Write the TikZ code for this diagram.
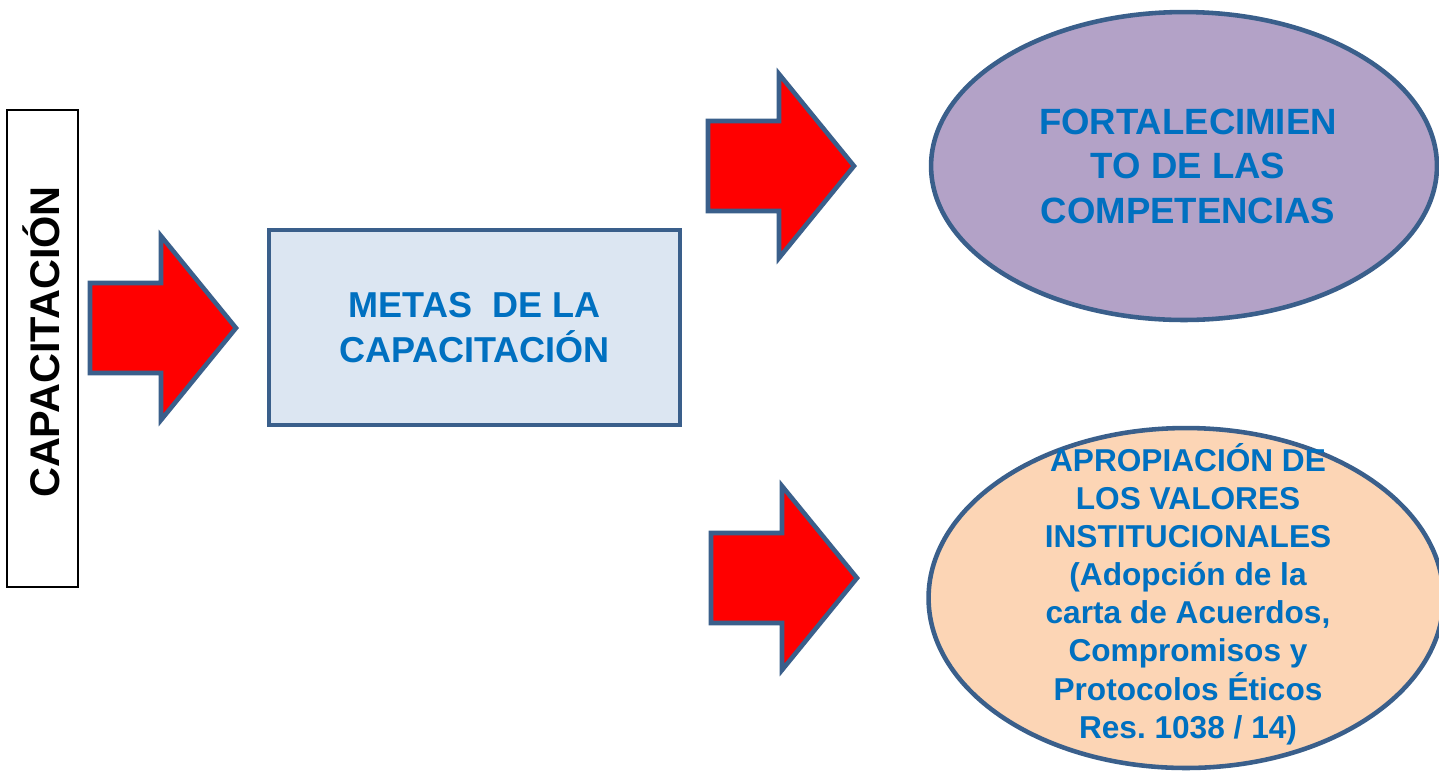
\documentclass[tikz,border=0pt]{standalone}
\usepackage{fontspec}
\setmainfont{Liberation Sans}
\usetikzlibrary{shapes.geometric}
\definecolor{edgeblue}{HTML}{3A5F8B}
\definecolor{txtblue}{HTML}{0070C0}
\definecolor{boxfill}{HTML}{DCE6F2}
\definecolor{lilac}{HTML}{B3A2C7}
\definecolor{peach}{HTML}{FCD5B5}
\frenchspacing
\tikzset{
  blockarrow/.pic={
    \draw[fill=red,draw=edgeblue,line width=2.6pt,line join=miter]
      (0,-45) -- (71,-45) -- (71,-92) -- (146,0) -- (71,92) -- (71,45) -- (0,45) -- cycle;
  },
  bluetext/.style={text=txtblue,font=\bfseries,align=center,inner sep=0pt},
  oval/.style={ellipse,draw=edgeblue,line width=2.6pt,inner sep=0pt},
}
\begin{document}
\begin{tikzpicture}[x=0.02cm,y=-0.02cm]
\useasboundingbox (0,0) rectangle (1439,772);
% left label box
\node[draw=black,line width=0.9pt,fill=white,minimum width=1.42cm,minimum height=9.54cm,inner sep=0pt] (lab) at (42.5,348.5) {};
\node[rotate=90,inner sep=0pt,font=\bfseries\fontsize{23.6}{28}\selectfont] (labtxt) at (41,342) {CAPACITACIÓN};
% arrows
\pic at (90,328) {blockarrow};
\pic at (708,166) {blockarrow};
\pic at (711,578) {blockarrow};
% central box
\node[draw=edgeblue,fill=boxfill,line width=2.2pt,minimum width=8.22cm,minimum height=3.9cm,inner sep=0pt] (metas) at (474.5,327.5) {};
\node[bluetext,font=\bfseries\fontsize{20.5}{25.6}\selectfont] (metastxt) at (metas.center) {METAS\ \ DE LA\\CAPACITACIÓN};
% ellipses
\node[oval,fill=lilac,minimum width=10.12cm,minimum height=6.16cm] (e1) at (1184,166) {};
\node[bluetext,font=\bfseries\fontsize{20.8}{25.3}\selectfont] (e1txt) at (1188,166) {FORTALECIMIEN\\TO DE LAS\\COMPETENCIAS};
\node[oval,fill=peach,minimum width=10.3cm,minimum height=6.8cm] (e2) at (1186,598) {};
\node[bluetext,font=\bfseries\fontsize{18}{21.7}\selectfont] (e2txt) at (1188,594) {APROPIACIÓN DE\\LOS VALORES\\INSTITUCIONALES\\(Adopción de la\\carta de Acuerdos,\\Compromisos y\\Protocolos Éticos\\Res. 1038 / 14)};
\end{tikzpicture}
\end{document}
